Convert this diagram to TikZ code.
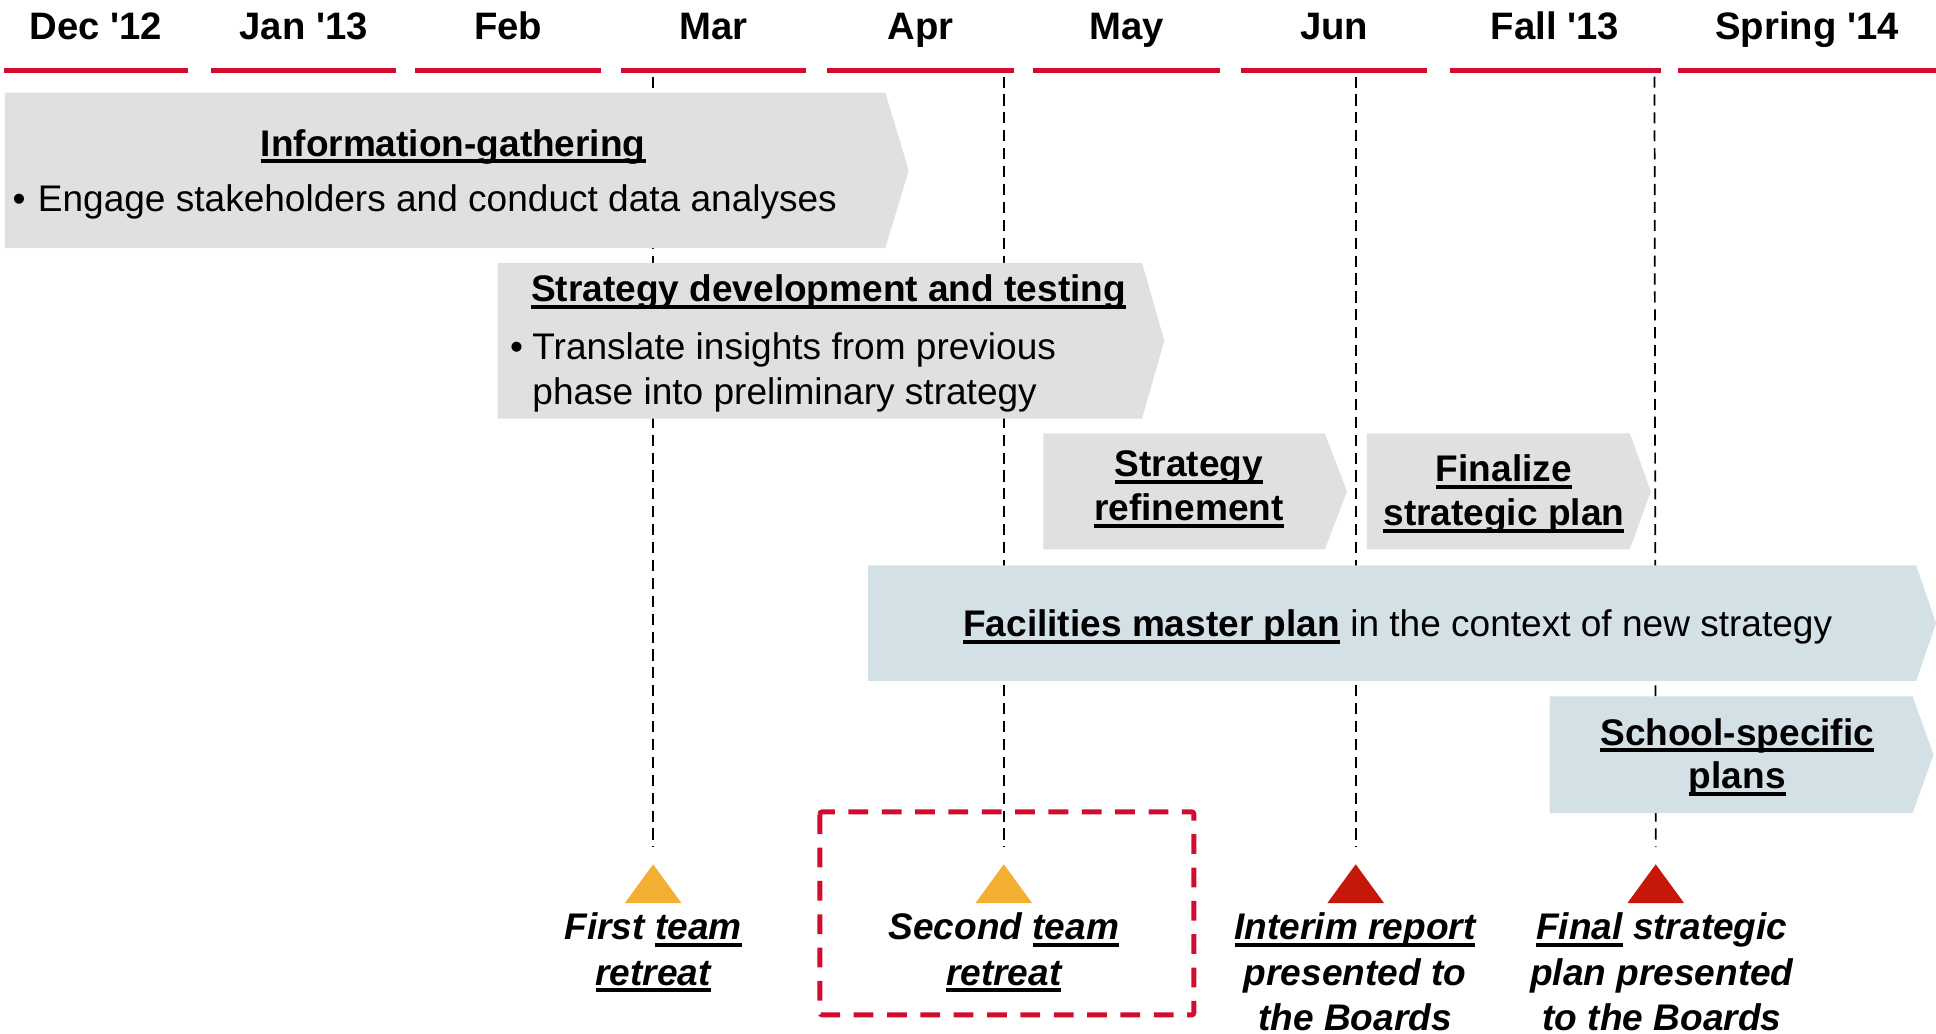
\documentclass[tikz,border=0pt]{standalone}
\usepackage{fontspec}
\setmainfont{Liberation Sans}
\usetikzlibrary{positioning}

\definecolor{barred}{RGB}{210,12,46}
\definecolor{phasegray}{RGB}{224,224,224}
\definecolor{phaseblue}{RGB}{211,224,229}
\definecolor{tickorange}{RGB}{243,175,50}
\definecolor{tickred}{RGB}{198,24,8}

% underline at a fixed depth below the baseline
\newcommand{\uln}[1]{\setbox0\hbox{#1}\rlap{\rule[-5.8pt]{\wd0}{3.2pt}}\box0\relax}
% phase bar: name, x1, y1, x2, y2, tip x, colour
\newcommand{\phasebar}[7]{%
    \fill[#7] (#2,#3) -- (#4,#3) -- (#6,{(#3+#5)/2}) -- (#4,#5) -- (#2,#5) -- cycle;
    \coordinate (#1) at ({(#2+#4)/2},{(#3+#5)/2});}

\begin{document}
\begin{tikzpicture}[x=1pt, y=-1pt,
    every node/.style={inner sep=0pt, font=\fontsize{30}{36.5}\selectfont},
    monthlabel/.style={anchor=base, font=\fontsize{31}{36}\selectfont\bfseries},
    monthbar/.style={draw=barred, line width=4pt},
    guide/.style={draw=black, line width=1.4pt, dash pattern=on 9pt off 5.5pt},
    phasetitle/.style={anchor=base, align=center, font=\fontsize{30}{35.5}\selectfont\bfseries},
    phasetext/.style={anchor=base west, align=left},
    milestone/.style={anchor=base, align=center, font=\fontsize{30}{36.5}\selectfont\bfseries\itshape},
    focusbox/.style={draw=barred, line width=4pt, dash pattern=on 16pt off 11pt, rounded corners=2pt}
]
    \useasboundingbox (0,0) rectangle (1568,837);

    % Months
    \foreach \a/\b/\m in {3/152/Dec \textquotesingle12, 171/321/Jan \textquotesingle13,
                          336/487/Feb, 503/653/Mar, 670/821/Apr, 837/988/May,
                          1005/1156/Jun, 1174/1345/Fall \textquotesingle13,
                          1359/1568/Spring \textquotesingle14} {
        \draw[monthbar] (\a,57.4) -- (\b,57.4);
        \node (month\a) [monthlabel] at ({(\a+\b)/2},32) {\m};
    }

    % Milestones
    \coordinate (mar) at (529,62);
    \coordinate (apr) at (813,62);
    \coordinate (jun) at (1098,62);
    \coordinate (fall) at (1340,62);
    \coordinate (retreat1) at (529,700);
    \coordinate (retreat2) at (813,700);
    \coordinate (interim) at (1098,700);
    \coordinate (final) at (1341,700);

    \draw[guide] (mar) -- ([yshift=14pt]retreat1);
    \draw[guide] (apr) -- ([yshift=14pt]retreat2);
    \draw[guide] (jun) -- ([yshift=14pt]interim);
    \draw[guide] (fall) -- ([yshift=14pt]final);

    % Phases
    \phasebar{info}{4}{75}{717}{201}{736}{phasegray}
    \phasebar{develop}{403}{213}{925}{339}{943}{phasegray}
    \phasebar{refine}{845}{351}{1073}{445}{1091}{phasegray}
    \phasebar{finalize}{1107}{351}{1320}{445}{1337}{phasegray}
    \phasebar{facilities}{703}{458}{1552}{551.5}{1568}{phaseblue}
    \phasebar{schools}{1255}{564}{1549}{658.5}{1566}{phaseblue}

    \node (infotitle) [phasetitle] at (367,126.5) {\uln{Information-gathering}};
    \node (infotext) [phasetext] at (10,171.5) {\textbullet\hspace{10pt}Engage stakeholders and conduct data analyses};

    \node (developtitle) [phasetitle, anchor=base west] at (430,244.5) {\uln{Strategy development and testing}};
    \node (developtext) [phasetext] at (413,328) {\textbullet\hspace{7.5pt}Translate insights from previous\\
        \hphantom{\textbullet\hspace{7.5pt}}phase into preliminary strategy};

    \node (refinetitle) [phasetitle] at (963,421.5) {\uln{Strategy}\\\uln{refinement}};
    \node (finalizetitle) [phasetitle] at (1218,425.5) {\uln{Finalize}\\\uln{strategic plan}};
    \node (facilitiestitle) [anchor=base] at (1132,515.5) {\uln{\bfseries Facilities master plan} in the context of new strategy};
    \node (schoolstitle) [phasetitle] at (1407,639) {\uln{School-specific}\\\uln{plans}};

    % Markers
    \fill[tickorange] (retreat1) -- ++(-23,31.5) -- ++(46,0) -- cycle;
    \fill[tickorange] (retreat2) -- ++(-23,31.5) -- ++(46,0) -- cycle;
    \fill[tickred] (interim) -- ++(-23,31.5) -- ++(46,0) -- cycle;
    \fill[tickred] (final) -- ++(-23,31.5) -- ++(46,0) -- cycle;

    \draw[focusbox] (664,657.5) rectangle (967,822);

    \node (retreat1text) [milestone] at (529,797.8) {First \uln{team}\\\uln{retreat}};
    \node (retreat2text) [milestone] at (813,797.8) {Second \uln{team}\\\uln{retreat}};
    \node (interimtext) [milestone] at (1097.5,834.3) {\uln{Interim report}\\presented to\\the Boards};
    \node (finaltext) [milestone] at (1346,834.3) {\uln{Final} strategic\\plan presented\\to the Boards};

\end{tikzpicture}
\end{document}
